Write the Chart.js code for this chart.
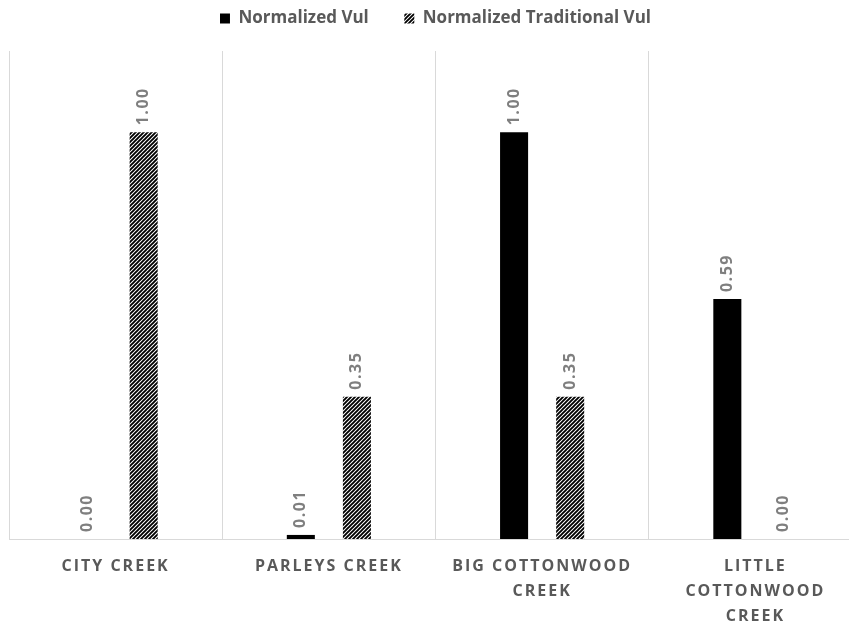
<!DOCTYPE html>
<html>
<head>
<meta charset="utf-8">
<script src="https://cdn.jsdelivr.net/npm/chart.js@4.4.1/dist/chart.umd.min.js"></script>
<style>
  html, body { margin: 0; padding: 0; background: #fff; overflow: hidden; }
  #chart-container { position: absolute; left: 0; top: 0; }
</style>
</head>
<body>
<div id="chart-container">
  <canvas id="vul-chart" width="892" height="644"></canvas>
</div>
<script>
  // creeks on the category axis (multi-line labels)
  const creeks = [
    ["CITY CREEK"],
    ["PARLEYS CREEK"],
    ["BIG COTTONWOOD", "CREEK"],
    ["LITTLE", "COTTONWOOD", "CREEK"]
  ];
  const normalizedVul = [0.00, 0.01, 1.00, 0.59];
  const normalizedTraditionalVul = [1.00, 0.35, 0.35, 0.00];
  const seriesNames = ["Normalized Vul", "Normalized Traditional Vul"];

  const labelGray = "#595959";
  const valueGray = "#7f7f7f";
  const gridGray = "#d9d9d9";

  // diagonal "////" hatch used for the traditional series
  function makeHatch() {
    const c = document.createElement("canvas");
    c.width = 4;
    c.height = 4;
    const g = c.getContext("2d");
    g.fillStyle = "#fff";
    g.fillRect(0, 0, 4, 4);
    g.strokeStyle = "#000";
    g.lineWidth = 1.9;
    g.beginPath();
    g.moveTo(-1, 5); g.lineTo(5, -1);
    g.moveTo(-1, 1); g.lineTo(1, -1);
    g.moveTo(3, 5); g.lineTo(5, 3);
    g.stroke();
    return g.createPattern(c, "repeat");
  }
  const hatch = makeHatch();

  // category axis that draws its labels with a bit of tracking
  class SpacedCategoryScale extends Chart.CategoryScale {
    drawLabels(chartArea) {
      const ctx = this.ctx;
      ctx.save();
      ctx.letterSpacing = "2px";
      super.drawLabels(chartArea);
      ctx.restore();
    }
  }
  SpacedCategoryScale.id = "spacedCategory";
  SpacedCategoryScale.defaults = Chart.CategoryScale.defaults;
  Chart.register(SpacedCategoryScale);

  // vertical value labels above every bar
  const valueLabels = {
    id: "valueLabels",
    afterDatasetsDraw(chart) {
      const ctx = chart.ctx;
      ctx.save();
      ctx.font = "bold 16px 'Open Sans'";
      ctx.fillStyle = valueGray;
      ctx.letterSpacing = "1.5px";
      ctx.textAlign = "left";
      ctx.textBaseline = "middle";
      chart.data.datasets.forEach((ds, i) => {
        const meta = chart.getDatasetMeta(i);
        meta.data.forEach((bar, j) => {
          const p = bar.getProps(["x", "y"], true);
          ctx.save();
          ctx.translate(p.x, p.y - 7);
          ctx.rotate(-Math.PI / 2);
          ctx.fillText(ds.data[j].toFixed(2), 0, 0);
          ctx.restore();
        });
      });
      ctx.restore();
    }
  };

  const ctx = document.getElementById("vul-chart").getContext("2d");
  const chart = new Chart(ctx, {
    type: "bar",
    data: {
      labels: creeks,
      datasets: [
        {
          label: seriesNames[0],
          data: normalizedVul,
          backgroundColor: "#000000",
          borderWidth: 0
        },
        {
          label: seriesNames[1],
          data: normalizedTraditionalVul,
          backgroundColor: hatch,
          borderWidth: 0
        }
      ]
    },
    options: {
      responsive: false,
      animation: false,
      devicePixelRatio: 1,
      categoryPercentage: 0.526,
      barPercentage: 0.5,
      layout: { padding: { left: 9, right: 30, top: 0, bottom: 0 } },
      plugins: {
        legend: {
          position: "top",
          labels: {
            boxWidth: 10,
            boxHeight: 10,
            padding: 10,
            color: labelGray,
            font: { family: "'Open Sans'", size: 17, weight: "bold" },
            generateLabels(chart) {
              const items = Chart.defaults.plugins.legend.labels.generateLabels(chart);
              // widen the gap between the two entries
              items.forEach((it, k) => {
                if (k < items.length - 1) it.text += "\u2003\u2002";
              });
              return items;
            }
          }
        },
        // empty spacer between legend and plot
        title: {
          display: true,
          text: "",
          weight: 500,
          font: { size: 1, lineHeight: 1 },
          padding: { top: 0, bottom: 13 }
        },
        tooltip: { enabled: false }
      },
      scales: {
        x: {
          type: "spacedCategory",
          grid: {
            display: true,
            offset: true,
            color: gridGray,
            lineWidth: 1,
            drawTicks: false
          },
          border: { display: true, color: gridGray, width: 1 },
          ticks: {
            color: labelGray,
            padding: 15,
            maxRotation: 0,
            autoSkip: false,
            font: { family: "'Open Sans'", size: 16, weight: "bold", lineHeight: "25px" }
          }
        },
        y: {
          display: false,
          min: 0,
          max: 1.2
        }
      }
    },
    plugins: [valueLabels]
  });
</script>
</body>
</html>
